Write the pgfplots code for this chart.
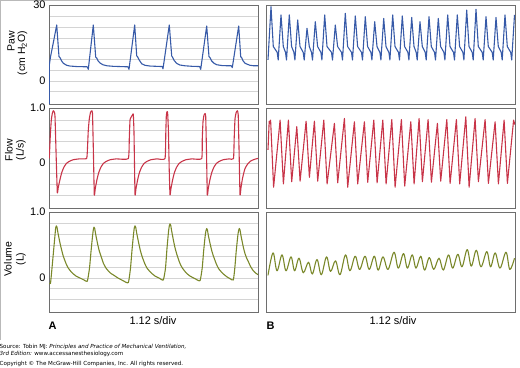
\documentclass[border=0pt]{standalone}
\usepackage{fontspec}
\setmainfont{Liberation Sans}
\newfontfamily\verd{DejaVu Sans}
\usepackage{pgfplots}
\pgfplotsset{compat=1.18}
\definecolor{pawc}{RGB}{55,90,168}
\definecolor{flowc}{RGB}{200,52,72}
\definecolor{volc}{RGB}{122,136,42}
\definecolor{gridc}{RGB}{212,212,212}
\definecolor{framec}{RGB}{110,110,110}
\pgfplotsset{
 panel/.style={scale only axis, anchor=south west,
  axis line style={draw=framec, line width=0.9pt},
  major tick length=0pt, minor tick length=0pt,
  xtick=\empty,
  xminorgrids, yminorgrids,
  minor grid style={draw=gridc, line width=0.9pt},
  tick label style={font=\fontsize{11}{12}\selectfont},
  every axis plot/.append style={line width=1.1pt, line join=round},
 },
 leftp/.style={panel, xmin=49, xmax=258, width=209bp,
  minor xtick={79.3,110.2,141,171.8,202.7,233.5}},
 rightp/.style={panel, xmin=266.5, xmax=515, width=248.5bp,
  minor xtick={303,340.6,378.2,415.8,453.4,491}, ytick=\empty},
 pawrow/.style={height=99bp, ymin=-9.08, ymax=30,
  minor ytick={-4.22,0,4.22,8.44,12.66,16.88,21.1,25.32}},
 flowrow/.style={height=100bp, ymin=-0.818, ymax=1.0,
  minor ytick={-0.585,-0.39,-0.195,0,0.195,0.39,0.585,0.78}},
 volrow/.style={height=100bp, ymin=-0.515, ymax=1.0,
  minor ytick={-0.328,-0.164,0,0.164,0.328,0.492,0.656,0.82}},
}
\begin{document}
\begin{tikzpicture}
\path[use as bounding box] (0,0) rectangle (520bp,368bp);
\draw[gray!55, line width=0.8pt] (0.4bp,28bp) -- (0.4bp,367.6bp) -- (520bp,367.6bp);

% ---------- Paw left
\begin{axis}[leftp, pawrow, at={(49bp,264bp)}, ytick={0,30}, yticklabels={0,30}]
\addplot[pawc] coordinates {
(49.3,-9.5) (49.3,6.3) (50.5,9.5) (52,12.5) (54,16.5) (56.7,22.1) (59,9.6) (60,9.2) (61.5,8.0) (63.3,7.0) (66.7,6.2) (70,5.9) (76.7,5.7) (87.3,5.6)
(88.3,4.6) (93.3,22.1) (95.7,9.4) (96.7,9.1) (98,8.0) (100,7.1) (103,6.4) (107,6.0) (113,5.8) (120,5.7) (128,5.6)
(129,4.6) (134.7,22.1) (136.7,9.9) (137.7,9.5) (139,8.4) (141.7,6.8) (145,6.2) (150,5.9) (156,5.8) (162.3,5.7)
(163,4.8) (169.3,22.1) (171.7,9.9) (172.7,9.3) (174,8.2) (176.5,7.0) (180,6.3) (185,6.0) (192,5.8) (199.7,5.7)
(200.7,4.6) (206.7,21.7) (209,9.6) (210,9.2) (211.5,8.0) (214,7.0) (217,6.4) (222,6.1) (228,6.0) (231.3,6.0)
(232.3,5.3) (238.7,21.7) (240.7,9.6) (241.7,9.2) (243,8.0) (245,7.0) (246.7,6.7) (250,6.2) (254,6.0) (258.3,6.0)
};
\end{axis}

% ---------- Paw right
\begin{axis}[rightp, pawrow, at={(266.5bp,264bp)}]
\addplot[pawc] coordinates {
(268,8.3)
(271,29.3) (273.3,13.6) (277.2,11.3) (278.2,8.3)
(281,26.1) (283.3,13.6) (285.5,11.3) (286.5,8.3)
(289.3,26.1) (291.6,13.6) (293.9,11.3) (294.9,8.3)
(297.7,24.1) (300,13.6) (303.2,11.3) (304.2,8.3)
(307,20.8) (309.3,13.6) (311.5,11.3) (312.5,8.3)
(315.3,23.4) (317.6,13.6) (320.9,11.3) (321.9,8.3)
(324.7,26.1) (327,13.6) (331.5,11.3) (332.5,8.3)
(335.3,22.1) (337.6,13.6) (341.5,11.3) (342.5,8.3)
(345.3,26.7) (347.6,13.6) (351.5,11.3) (352.5,8.3)
(355.3,25.7) (357.6,13.6) (361.5,11.3) (362.5,8.3)
(365.3,25.4) (367.6,13.6) (370.9,11.3) (371.9,8.3)
(374.7,23.4) (377,13.6) (379.9,11.3) (380.9,8.3)
(383.7,24.7) (386,13.6) (388.9,11.3) (389.9,8.3)
(392.7,26.1) (395,13.6) (398.5,11.3) (399.5,8.3)
(402.3,25.7) (404.6,13.6) (407.9,11.3) (408.9,8.3)
(411.7,25.1) (414,13.6) (416.2,11.3) (417.2,8.3)
(420,23.4) (422.3,13.6) (425.2,11.3) (426.2,8.3)
(429,25.4) (431.3,13.6) (434.5,11.3) (435.5,8.3)
(438.3,24.7) (440.6,13.6) (443.9,11.3) (444.9,8.3)
(447.7,26.1) (450,13.6) (453.5,11.3) (454.5,8.3)
(457.3,26.1) (459.6,13.6) (462.9,11.3) (463.9,8.3)
(466.7,28.0) (469,13.6) (472.2,11.3) (473.2,8.3)
(476,28.3) (478.3,13.6) (482.2,11.3) (483.2,8.3)
(486,25.4) (488.3,13.6) (492.2,11.3) (493.2,8.3)
(496,25.1) (498.3,13.6) (501.2,11.3) (502.2,8.3)
(505,26.1) (507.3,13.6) (510.7,11.3) (511.7,8.3)
(514.5,26.1)
};
\end{axis}

% ---------- Flow left
\begin{axis}[leftp, flowrow, at={(49bp,160bp)}, ytick={0,1}, yticklabels={0,1.0}]
\addplot[flowc, smooth, tension=0.25] coordinates {
(49.3,0.085) (50.3,0.5) (51.3,0.78) (52.3,0.9) (53.3,0.95) (54.3,0.93) (55,0.85) (56.2,0.1) (57.3,-0.54) (58.3,-0.44) (60,-0.3) (61.8,-0.17) (63.8,-0.08) (66.3,-0.01) (69.3,0.03) (73.3,0.06) (79.3,0.075) (86.5,0.08)
(87.3,0.2) (88.3,0.6) (89.3,0.8) (90.5,0.92) (91.7,0.95) (92.5,0.9) (93.4,0.2) (94.3,-0.58) (95.3,-0.46) (97,-0.3) (98.8,-0.17) (100.8,-0.08) (103.3,-0.01) (106.3,0.03) (110.3,0.06) (116.3,0.075) (128.3,0.08)
(129.3,0.45) (130,0.78) (131,0.83) (132.3,0.87) (133.3,0.89) (134,0.55) (135,-0.57) (136,-0.46) (137.7,-0.3) (139.5,-0.17) (141.5,-0.08) (144,-0.01) (147,0.03) (151,0.06) (157,0.075) (165,0.08)
(165.8,0.55) (166.3,0.85) (166.9,0.93) (167.6,0.92) (168.4,0.6) (169.2,-0.1) (170,-0.58) (171,-0.46) (172.7,-0.3) (174.5,-0.17) (176.5,-0.08) (179,-0.01) (182,0.03) (186,0.06) (192,0.075) (201.7,0.08)
(202.3,0.45) (203,0.75) (204,0.87) (205,0.9) (205.7,0.85) (206.5,0.2) (207.3,-0.58) (208.3,-0.46) (210,-0.3) (211.8,-0.17) (213.8,-0.08) (216.3,-0.01) (219.3,0.03) (223.3,0.06) (229.3,0.075) (233.5,0.08)
(234.2,0.45) (235,0.8) (236.2,0.92) (237.3,0.95) (238.2,0.88) (239.1,0.2) (240,-0.58) (241,-0.45) (242.5,-0.28) (245,-0.1) (248,-0.01) (251,0.04) (255,0.07) (258.3,0.085)
};
\end{axis}

% ---------- Flow right
\begin{axis}[rightp, flowrow, at={(266.5bp,160bp)}]
\addplot[flowc] coordinates {
(268,0.24) (269.2,0.76) (269.8,0.72) (270.6,0.78) (273.6,-0.44)
(280.1,0.78) (283.4,-0.38) (288.4,0.78) (291.7,-0.34) (296.8,0.66) (300.1,-0.33)
(306.1,0.76) (309.4,-0.26) (314.4,0.76) (317.7,-0.33) (323.8,0.78) (327.1,-0.38)
(334.4,0.72) (337.7,-0.36) (344.4,0.81) (347.7,-0.44) (354.4,0.75) (357.7,-0.38)
(364.4,0.75) (367.7,-0.35) (373.8,0.78) (377.1,-0.36) (382.8,0.78) (386.1,-0.38)
(391.8,0.79) (395.1,-0.44) (401.4,0.79) (404.7,-0.42) (410.8,0.75) (414.1,-0.38)
(419.1,0.81) (422.4,-0.34) (428.1,0.79) (431.4,-0.35) (437.4,0.72) (440.7,-0.33)
(446.8,0.79) (450.1,-0.37) (456.4,0.79) (459.7,-0.38) (465.8,0.84) (469.1,-0.44)
(475.1,0.81) (478.4,-0.34) (485.1,0.79) (488.4,-0.37) (495.1,0.75) (498.4,-0.38)
(504.1,0.78) (507.4,-0.37) (513.6,0.78) (514.8,0.7)
};
\end{axis}

% ---------- Volume left
\begin{axis}[leftp, volrow, at={(49bp,56bp)}, ytick={0,1}, yticklabels={0,1.0}]
\addplot[volc, smooth, tension=0.3] coordinates {
(49.3,-0.08) (50.5,-0.08) (52,0.15) (53.5,0.4) (55,0.65) (55.7,0.76) (56.3,0.79) (57,0.77) (58,0.68) (60,0.53) (61.7,0.42) (63.3,0.33) (66,0.22) (68.3,0.15) (72,0.08) (76,0.03) (80,0.0) (84,-0.03) (87.3,-0.05)
(89.5,0.15) (91,0.4) (92.5,0.63) (93.3,0.73) (94,0.77) (94.7,0.75) (95.7,0.66) (97.7,0.51) (99.3,0.41) (101,0.33) (103.5,0.22) (106,0.15) (110,0.08) (114,0.04) (118,0.0) (123,-0.04) (128.3,-0.07)
(130.5,0.15) (132,0.42) (133.5,0.66) (134.3,0.76) (135,0.79) (135.7,0.77) (136.7,0.68) (138.7,0.53) (140.3,0.42) (142,0.33) (144.7,0.22) (147,0.15) (151,0.08) (155,0.03) (159,0.0) (163.3,-0.03)
(165.5,0.15) (167,0.45) (168.5,0.7) (169.3,0.79) (170,0.82) (170.7,0.8) (171.7,0.71) (173.7,0.55) (175.3,0.44) (177,0.35) (179.7,0.23) (182,0.16) (186,0.08) (190,0.03) (195,-0.01) (200,-0.04)
(202.2,0.15) (203.7,0.42) (205.2,0.64) (206,0.72) (206.7,0.75) (207.4,0.73) (208.4,0.64) (210.4,0.5) (212,0.4) (213.7,0.32) (216.4,0.21) (218.7,0.14) (222.7,0.07) (226.7,0.02) (230,-0.01) (233.3,-0.03)
(234.8,0.15) (236.3,0.42) (237.8,0.64) (238.6,0.72) (239.3,0.75) (240,0.73) (241,0.64) (243.3,0.47) (245,0.37) (246.7,0.3) (248.3,0.25) (250.7,0.17) (253.3,0.11) (256,0.07) (258.3,0.05)
};
\end{axis}

% ---------- Volume right
\begin{axis}[rightp, volrow, at={(266.5bp,56bp)}]
\addplot[volc, smooth, tension=0.6] coordinates {
(268,0.04) (273,0.38) (277,0.11) (282,0.35) (286,0.11) (291,0.32) (294.6,0.11) (299,0.30) (303.3,0.08) (308.5,0.24) (312.3,0.06) (317,0.28) (321.3,0.05) (326.5,0.32) (330.5,0.10) (335.5,0.26) (340,0.05) (345.5,0.35) (349.9,0.11) (355.2,0.33) (359.6,0.13) (365,0.33) (369.2,0.13) (374.3,0.33) (378.2,0.12) (383,0.32) (388,0.13) (394,0.39) (398.3,0.15) (403.5,0.37) (407.4,0.15) (412.2,0.35) (416,0.15) (420.7,0.33) (424.6,0.12) (429.3,0.31) (433.7,0.13) (439,0.30) (443.3,0.12) (448.5,0.35) (452.7,0.15) (457.8,0.36) (462,0.17) (467.2,0.43) (471.3,0.18) (476.3,0.42) (481,0.17) (486.8,0.40) (490.6,0.17) (495.2,0.38) (500,0.15) (506,0.39) (509.8,0.13) (514.5,0.30)
};
\end{axis}

% ---------- labels
\begin{scope}[every node/.style={font=\fontsize{10.5}{11}\selectfont, inner sep=0pt}]
\node[rotate=90, anchor=east] at (11bp,337bp) {Paw};
\node[rotate=90, anchor=east] at (22.5bp,337bp) {(cm H\textsubscript{2}O)};
\node[rotate=90] at (9bp,218bp) {Flow};
\node[rotate=90] at (21bp,218bp) {(L/s)};
\node[rotate=90] at (8bp,109bp) {Volume};
\node[rotate=90] at (21bp,109bp) {(L)};
\end{scope}
\node[font=\fontsize{11}{12}\selectfont, inner sep=0pt] at (153bp,47bp) {1.12 s/div};
\node[font=\fontsize{11}{12}\selectfont, inner sep=0pt] at (393bp,47bp) {1.12 s/div};
\node[font=\bfseries\fontsize{11}{12}\selectfont, inner sep=0pt] at (52.7bp,42bp) {A};
\node[font=\bfseries\fontsize{11}{12}\selectfont, inner sep=0pt] at (270.5bp,42bp) {B};
\begin{scope}[every node/.style={font=\verd\fontsize{5.6}{6.5}\selectfont, inner sep=0pt, anchor=west}]
\node at (-0.5bp,21bp) {Source: Tobin MJ: \textit{Principles and Practice of Mechanical Ventilation,}};
\node at (-0.5bp,14bp) {\textit{3rd Edition:} www.accessanesthesiology.com};
\node at (-0.5bp,4bp) {Copyright © The McGraw-Hill Companies, Inc. All rights reserved.};
\end{scope}
\end{tikzpicture}
\end{document}
